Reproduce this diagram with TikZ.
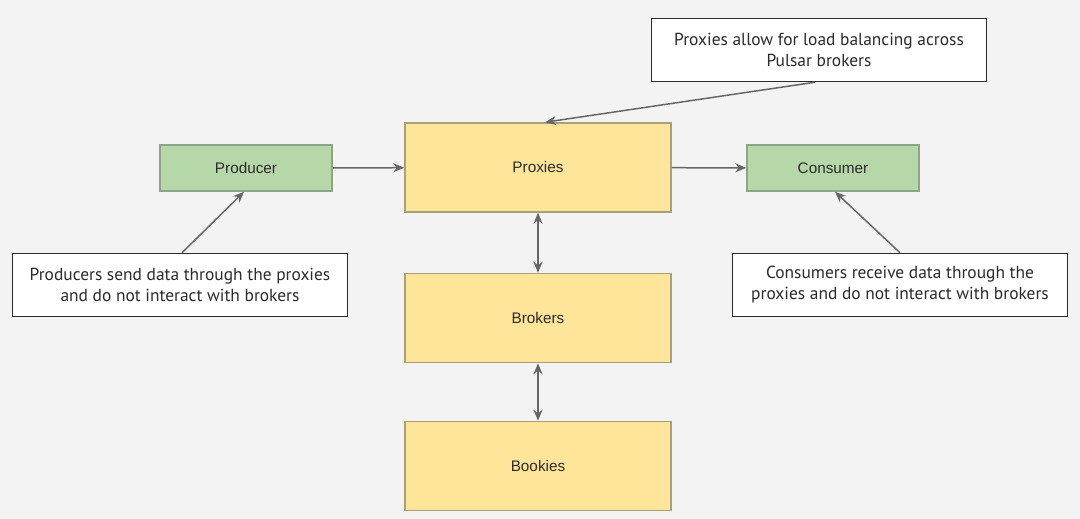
\documentclass[tikz,border=0pt]{standalone}
\usepackage{fontspec}
\setmainfont{Liberation Sans}
\newfontfamily\notefont{PT Sans}
\usetikzlibrary{arrows.meta, positioning}
\definecolor{cbg}{HTML}{F3F3F3}
\definecolor{cgreen}{HTML}{B6D7A8}
\definecolor{cgreenline}{HTML}{8DA585}
\definecolor{cyellow}{HTML}{FFE599}
\definecolor{cyellowline}{HTML}{A8A078}
\definecolor{cgrey}{HTML}{666666}
\definecolor{ctext}{HTML}{2B2B2B}
\tikzset{
  every picture/.style={line width=1.5pt},
  client/.style={draw=cgreenline, fill=cgreen, minimum width=172pt, minimum height=46pt,
    font=\fontsize{15.3}{18}\selectfont, text=ctext},
  layer/.style={draw=cyellowline, fill=cyellow, minimum width=266pt, minimum height=89pt,
    font=\fontsize{15.3}{18}\selectfont, text=ctext},
  note/.style={draw=ctext, fill=white, minimum width=335pt, minimum height=63pt, align=center,
    font=\notefont\fontsize{17.4}{21}\selectfont, text=ctext},
  arrow/.style={-{Stealth[length=11pt, width=9pt]}, draw=cgrey, line width=1.5pt},
  biarrow/.style={{Stealth[length=11pt, width=9pt]}-{Stealth[length=11pt, width=9pt]}, draw=cgrey, line width=1.5pt},
}

\begin{document}
\begin{tikzpicture}[x=1pt, y=-1pt]
  \fill[cbg] (0,0) rectangle (1080,519);
  \useasboundingbox (0,0) rectangle (1080,519);
  % middle column
  \node[layer] (proxies) at (538,167.5) {Proxies};
  \node[layer] (brokers) at (538,318) {Brokers};
  \node[layer] (bookies) at (538,466) {Bookies};
  % clients
  \node[client] (producer) at (246,168) {Producer};
  \node[client] (consumer) at (833,168) {Consumer};
  % notes
  \node[note] (lbnote) at (819,50) {Proxies allow for load balancing across\\Pulsar brokers};
  \node[note] (prodnote) at (180,285) {Producers send data through the proxies\\and do not interact with brokers};
  \node[note] (consnote) at (900,285) {Consumers receive data through the\\proxies and do not interact with brokers};
  % connectors
  \draw[arrow] (producer) -- (proxies);
  \draw[arrow] (proxies) -- (consumer);
  \draw[biarrow] (proxies) -- (brokers);
  \draw[biarrow] (brokers) -- (bookies);
  \draw[arrow] (lbnote.south) ++(-4,0) -- ([xshift=7pt]proxies.north);
  \draw[arrow] ([xshift=2pt]prodnote.north) -- ([xshift=-2pt]producer.south);
  \draw[arrow] (consnote.north) -- ([xshift=2pt]consumer.south);
\end{tikzpicture}
\end{document}
